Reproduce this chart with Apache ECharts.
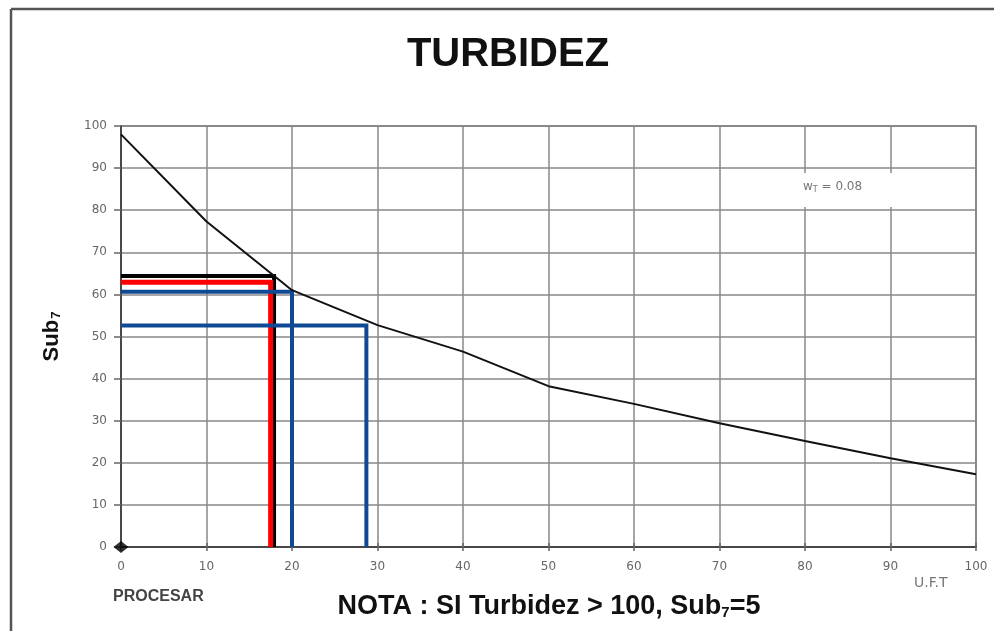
<!DOCTYPE html>
<html>
<head>
<meta charset="utf-8">
<script src="https://cdn.jsdelivr.net/npm/echarts@6/dist/echarts.min.js"></script>
<style>
  html, body { margin: 0; padding: 0; background: #fff; }
  #chart { width: 994px; height: 631px; }
</style>
</head>
<body>
<div id="chart"></div>
<script>
// Turbidity sub-index curve (U.F.T → Sub7)
const turbidity = [0, 10, 20, 30, 40, 50, 60, 70, 80, 90, 100];
const subIndex  = [98, 77.3, 61, 52.7, 46.4, 38.2, 34, 29.4, 25.2, 21.1, 17.3];

// Reading guides: x value, y value
const guideBlack = [17.9, 64.4];
const guideRed   = [17.5, 62.9];
const guideBlue1 = [20, 60.6];
const guideBlue2 = [28.7, 52.6];

const xTicks = { min: 0, max: 100, interval: 10 };
const yTicks = { min: 0, max: 100, interval: 10 };

const curve = turbidity.map((x, i) => [x, subIndex[i]]);
const guide = g => [[0, g[1]], [g[0], g[1]], [g[0], 0]];

const chart = echarts.init(document.getElementById('chart'), null, { renderer: 'canvas' });

const labelFont = { color: '#666', fontSize: 12, fontFamily: 'DejaVu Sans' };
const gridLine = { lineStyle: { color: '#888', width: 1.5 } };

const guideSeries = (data, color, width) => ({
  type: 'line', data: guide(data), symbol: 'none', z: 3,
  lineStyle: { color: color, width: width, cap: 'butt', join: 'miter' }
});

chart.setOption({
  animation: false,
  backgroundColor: '#fff',
  grid: { left: 121, right: 18, top: 126, bottom: 84, show: true, borderColor: '#666', borderWidth: 1.5 },
  xAxis: [{
    type: 'value', min: xTicks.min, max: xTicks.max, interval: xTicks.interval,
    axisLine: { show: true, onZero: false, lineStyle: { color: '#333', width: 1.5 } },
    axisTick: { show: true, length: 4, lineStyle: { color: '#666', width: 1.5 } },
    axisLabel: Object.assign({ margin: 14 }, labelFont),
    splitLine: Object.assign({ show: true }, gridLine)
  }, {
    type: 'value', position: 'top', min: xTicks.min, max: xTicks.max, interval: xTicks.interval,
    axisLine: { show: false },
    axisTick: { show: true, length: 4, lineStyle: { color: '#666', width: 1.5 } },
    axisLabel: { show: false }, splitLine: { show: false }
  }],
  yAxis: {
    type: 'value', min: yTicks.min, max: yTicks.max, interval: yTicks.interval,
    axisLine: { show: true, onZero: false, lineStyle: { color: '#333', width: 1.5 } },
    axisTick: { show: true, length: 7, lineStyle: { color: '#666', width: 1.5 } },
    axisLabel: Object.assign({ margin: 14 }, labelFont),
    splitLine: Object.assign({ show: true }, gridLine),
    name: 'Sub{s|7}', nameLocation: 'middle', nameGap: 58, nameRotate: 90,
    nameTextStyle: {
      fontFamily: 'Liberation Sans', fontWeight: 'bold', fontSize: 22, color: '#111',
      rich: { s: { fontFamily: 'Liberation Sans', fontWeight: 'bold', fontSize: 13, color: '#111', verticalAlign: 'bottom', padding: [8, 0, 0, 1] } }
    }
  },
  series: [
    { type: 'line', data: curve, symbol: 'none', z: 4,
      lineStyle: { color: '#111', width: 2 } },
    guideSeries(guideBlack, '#000', 4),
    guideSeries(guideRed, '#ff0000', 5),
    guideSeries(guideBlue1, '#114a94', 4),
    guideSeries(guideBlue2, '#114a94', 4),
    { type: 'scatter', data: [[0, 0]], symbol: 'diamond', symbolSize: [15, 12], z: 5,
      itemStyle: { color: '#000' } }
  ],
  graphic: [
    // outer frame
    { type: 'line', shape: { x1: 11, y1: 9, x2: 11, y2: 631 }, style: { stroke: '#555', lineWidth: 2.5 } },
    { type: 'line', shape: { x1: 11, y1: 9, x2: 994, y2: 9 }, style: { stroke: '#555', lineWidth: 2.5 } },
    // title
    { type: 'text', x: 508, y: 55, style: { text: 'TURBIDEZ', fill: '#111', align: 'center', verticalAlign: 'middle',
      font: 'bold 40px "Liberation Sans"' } },
    // weight label box
    { type: 'rect', shape: { x: 790, y: 173, width: 115, height: 34 }, style: { fill: '#fff' }, z: 10 },
    { type: 'text', x: 803, y: 187, z: 11, style: { text: 'w{s|T} = 0.08', fill: '#777', align: 'left', verticalAlign: 'middle',
      font: '12px "DejaVu Sans"',
      rich: { s: { fontSize: 8, fill: '#777', fontFamily: 'DejaVu Sans', verticalAlign: 'bottom', padding: [5, 0, 0, 0] } } } },
    // bottom notes
    { type: 'text', x: 113, y: 597, style: { text: 'PROCESAR', fill: '#444', align: 'left', verticalAlign: 'middle',
      font: 'bold 16px "Liberation Sans"' } },
    { type: 'text', x: 914, y: 583, style: { text: 'U.F.T', fill: '#777', align: 'left', verticalAlign: 'middle',
      font: '14px "DejaVu Sans"' } },
    { type: 'text', x: 549, y: 607, style: { text: 'NOTA : SI Turbidez > 100, Sub{s|7}=5', fill: '#111', align: 'center', verticalAlign: 'middle',
      font: 'bold 27px "Liberation Sans"',
      rich: { s: { fontSize: 15, fontWeight: 'bold', fontFamily: 'Liberation Sans', fill: '#111', verticalAlign: 'bottom', padding: [9, 0, 0, 0] } } } }
  ]
});
</script>
</body>
</html>
